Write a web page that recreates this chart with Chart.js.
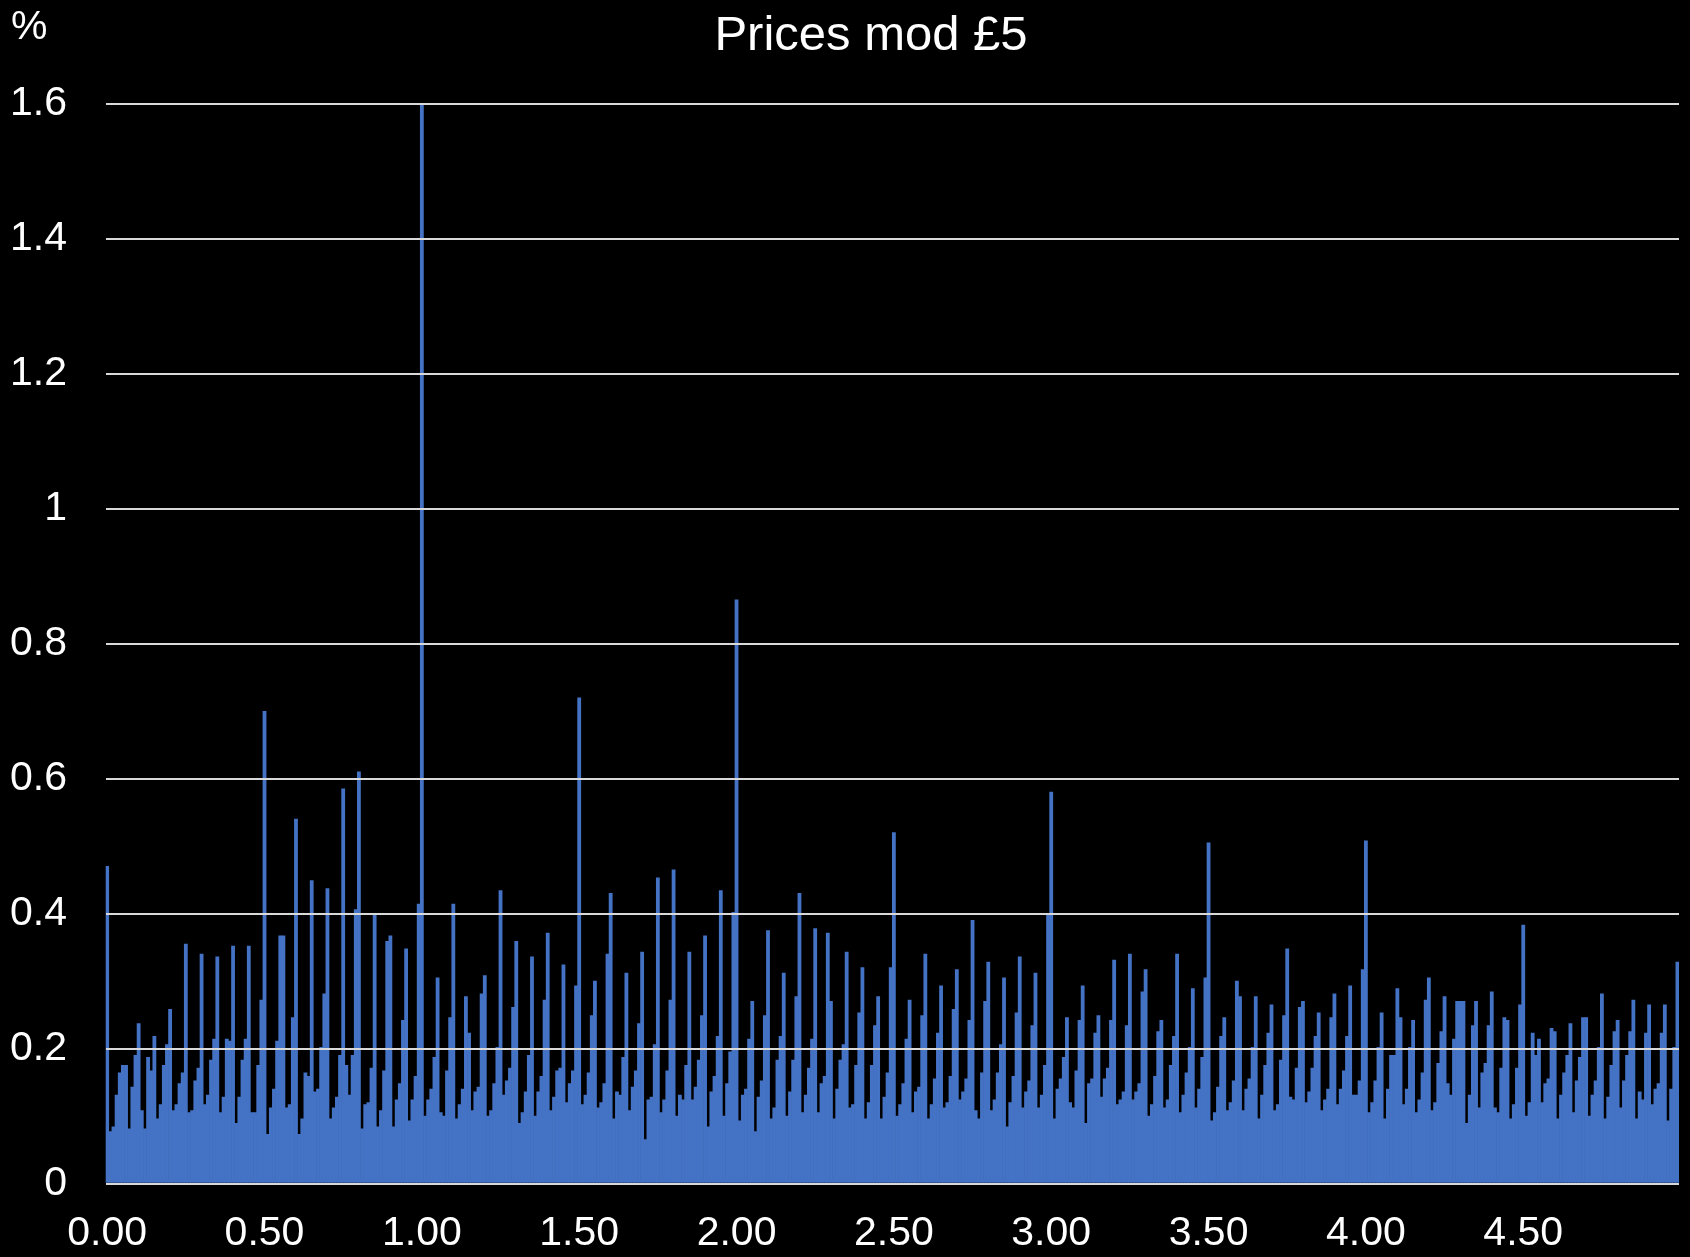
<!DOCTYPE html>
<html>
<head>
<meta charset="utf-8">
<title>Prices mod £5</title>
<script src="https://cdn.jsdelivr.net/npm/chart.js@4/dist/chart.umd.min.js"></script>
<style>
  html, body { margin: 0; padding: 0; background: #000; }
  #wrap { width: 1690px; height: 1257px; position: relative; }
</style>
</head>
<body>
<div id="wrap"><canvas id="modChart"></canvas></div>
<script>
const chartTitle = "Prices mod £5";
const unitLabel = "%";

// one category per penny of the price remainder, 0.00 .. 4.99
const pennies = [];
for (let p = 0; p < 500; p++) pennies.push((p / 100).toFixed(2));

const xTickLabels = ["0.00", "0.50", "1.00", "1.50", "2.00", "2.50", "3.00", "3.50", "4.00", "4.50"];
const yMax = 1.6;
const yStep = 0.2;

// share of prices (%) ending on each remainder
const share = [
  0.47, 0.077, 0.084, 0.131, 0.164, 0.175, 0.175, 0.081, 0.143, 0.19,
  0.237, 0.108, 0.081, 0.187, 0.167, 0.218, 0.096, 0.117, 0.175, 0.206,
  0.258, 0.108, 0.117, 0.148, 0.164, 0.355, 0.105, 0.108, 0.152, 0.171,
  0.34, 0.117, 0.131, 0.183, 0.214, 0.336, 0.105, 0.128, 0.214, 0.211,
  0.352, 0.089, 0.128, 0.183, 0.214, 0.352, 0.105, 0.105, 0.175, 0.272,
  0.70, 0.073, 0.112, 0.14, 0.211, 0.367, 0.367, 0.112, 0.117, 0.246,
  0.54, 0.073, 0.096, 0.164, 0.159, 0.449, 0.136, 0.14, 0.202, 0.281,
  0.437, 0.096, 0.112, 0.128, 0.19, 0.585, 0.175, 0.131, 0.19, 0.406,
  0.61, 0.081, 0.117, 0.12, 0.171, 0.399, 0.084, 0.108, 0.167, 0.359,
  0.367, 0.084, 0.124, 0.148, 0.242, 0.348, 0.093, 0.124, 0.159, 0.414,
  1.6, 0.10, 0.124, 0.14, 0.187, 0.305, 0.105, 0.10, 0.167, 0.246,
  0.414, 0.096, 0.117, 0.14, 0.277, 0.223, 0.108, 0.136, 0.143, 0.281,
  0.308, 0.10, 0.108, 0.148, 0.202, 0.434, 0.131, 0.152, 0.171, 0.261,
  0.359, 0.089, 0.105, 0.136, 0.19, 0.336, 0.10, 0.136, 0.159, 0.272,
  0.371, 0.108, 0.128, 0.167, 0.171, 0.324, 0.12, 0.148, 0.167, 0.293,
  0.72, 0.117, 0.131, 0.164, 0.249, 0.30, 0.112, 0.12, 0.148, 0.34,
  0.43, 0.096, 0.136, 0.131, 0.187, 0.312, 0.108, 0.143, 0.167, 0.237,
  0.343, 0.065, 0.124, 0.128, 0.206, 0.453, 0.105, 0.124, 0.167, 0.272,
  0.465, 0.10, 0.131, 0.124, 0.175, 0.343, 0.124, 0.143, 0.183, 0.249,
  0.367, 0.084, 0.136, 0.159, 0.218, 0.434, 0.10, 0.148, 0.195, 0.402,
  0.865, 0.093, 0.131, 0.14, 0.214, 0.27, 0.077, 0.128, 0.152, 0.249,
  0.375, 0.096, 0.112, 0.183, 0.218, 0.312, 0.10, 0.136, 0.183, 0.277,
  0.43, 0.105, 0.131, 0.171, 0.214, 0.378, 0.105, 0.148, 0.159, 0.371,
  0.27, 0.096, 0.14, 0.183, 0.206, 0.343, 0.112, 0.117, 0.175, 0.253,
  0.32, 0.096, 0.12, 0.175, 0.234, 0.277, 0.096, 0.128, 0.164, 0.32,
  0.52, 0.10, 0.117, 0.148, 0.214, 0.272, 0.105, 0.136, 0.143, 0.249,
  0.34, 0.096, 0.117, 0.155, 0.223, 0.293, 0.112, 0.12, 0.159, 0.258,
  0.317, 0.124, 0.136, 0.155, 0.242, 0.39, 0.108, 0.096, 0.164, 0.27,
  0.328, 0.108, 0.124, 0.164, 0.206, 0.305, 0.084, 0.12, 0.159, 0.253,
  0.336, 0.112, 0.136, 0.152, 0.234, 0.312, 0.112, 0.131, 0.175, 0.399,
  0.58, 0.096, 0.14, 0.155, 0.187, 0.246, 0.12, 0.112, 0.167, 0.242,
  0.293, 0.089, 0.148, 0.155, 0.223, 0.249, 0.128, 0.155, 0.171, 0.242,
  0.331, 0.117, 0.124, 0.136, 0.234, 0.34, 0.124, 0.136, 0.148, 0.284,
  0.317, 0.10, 0.117, 0.159, 0.225, 0.242, 0.112, 0.124, 0.175, 0.218,
  0.34, 0.105, 0.131, 0.164, 0.202, 0.289, 0.112, 0.14, 0.187, 0.305,
  0.505, 0.093, 0.105, 0.143, 0.218, 0.246, 0.108, 0.12, 0.152, 0.30,
  0.277, 0.108, 0.14, 0.155, 0.202, 0.277, 0.096, 0.131, 0.175, 0.223,
  0.265, 0.108, 0.117, 0.183, 0.249, 0.348, 0.128, 0.124, 0.171, 0.261,
  0.27, 0.12, 0.136, 0.171, 0.218, 0.253, 0.108, 0.124, 0.14, 0.246,
  0.281, 0.117, 0.14, 0.167, 0.218, 0.293, 0.131, 0.131, 0.152, 0.317,
  0.508, 0.105, 0.12, 0.152, 0.202, 0.253, 0.096, 0.14, 0.19, 0.19,
  0.289, 0.246, 0.117, 0.14, 0.202, 0.242, 0.105, 0.124, 0.164, 0.272,
  0.305, 0.108, 0.12, 0.178, 0.225, 0.277, 0.148, 0.131, 0.214, 0.27,
  0.27, 0.27, 0.089, 0.131, 0.234, 0.27, 0.112, 0.164, 0.178, 0.234,
  0.284, 0.112, 0.105, 0.171, 0.246, 0.242, 0.096, 0.117, 0.171, 0.265,
  0.383, 0.10, 0.12, 0.223, 0.19, 0.214, 0.12, 0.148, 0.155, 0.23,
  0.225, 0.096, 0.131, 0.164, 0.19, 0.237, 0.105, 0.152, 0.187, 0.246,
  0.246, 0.10, 0.131, 0.152, 0.202, 0.281, 0.096, 0.128, 0.175, 0.225,
  0.242, 0.112, 0.152, 0.19, 0.225, 0.272, 0.096, 0.136, 0.124, 0.223,
  0.265, 0.117, 0.14, 0.148, 0.223, 0.265, 0.093, 0.14, 0.202, 0.328
];

const fontFamily = '"Liberation Sans", Arial, sans-serif';
Chart.defaults.font.family = fontFamily;
Chart.defaults.color = "#ffffff";

// title and the "%" unit are drawn at fixed spots like the original sheet
const headerText = {
  id: "headerText",
  afterDraw(chart) {
    const ctx = chart.ctx;
    ctx.save();
    ctx.fillStyle = "#ffffff";
    ctx.textBaseline = "middle";
    ctx.textAlign = "center";
    ctx.font = "49px " + fontFamily;
    ctx.fillText(chartTitle, 871, 36);
    ctx.textAlign = "left";
    ctx.font = "41px " + fontFamily;
    ctx.fillText(unitLabel, 11, 28);
    ctx.restore();
  }
};

new Chart(document.getElementById("modChart"), {
  type: "bar",
  data: {
    labels: pennies,
    datasets: [{
      label: "%",
      data: share,
      backgroundColor: "#4472c4",
      borderWidth: 0,
      barPercentage: 1,
      categoryPercentage: 1
    }]
  },
  options: {
    responsive: true,
    maintainAspectRatio: false,
    animation: false,
    layout: { padding: { top: 104, left: 10, right: 11, bottom: 0 } },
    plugins: {
      legend: { display: false },
      tooltip: { enabled: false },
      title: { display: false }
    },
    scales: {
      x: {
        grid: { display: false },
        border: { display: false },
        afterFit: function (scale) {
          scale.height = 73.5;
          scale.paddingLeft = 0;
          scale.paddingRight = 0;
        },
        ticks: {
          autoSkip: false,
          maxRotation: 0,
          minRotation: 0,
          padding: 17.5,
          font: { size: 41 },
          color: "#ffffff",
          callback: function (value, index) {
            const lab = pennies[index];
            return xTickLabels.includes(lab) ? lab : "";
          }
        }
      },
      y: {
        min: 0,
        max: yMax,
        border: { display: false },
        grid: { color: "#d9d9d9", lineWidth: 2, drawTicks: false, z: 1 },
        afterFit: function (scale) { scale.width = 95.6; },
        ticks: {
          stepSize: yStep,
          padding: 38.6,
          font: { size: 41 },
          color: "#ffffff",
          callback: function (v) { return String(Math.round(v * 10) / 10); }
        }
      }
    }
  },
  plugins: [headerText]
});
</script>
</body>
</html>
